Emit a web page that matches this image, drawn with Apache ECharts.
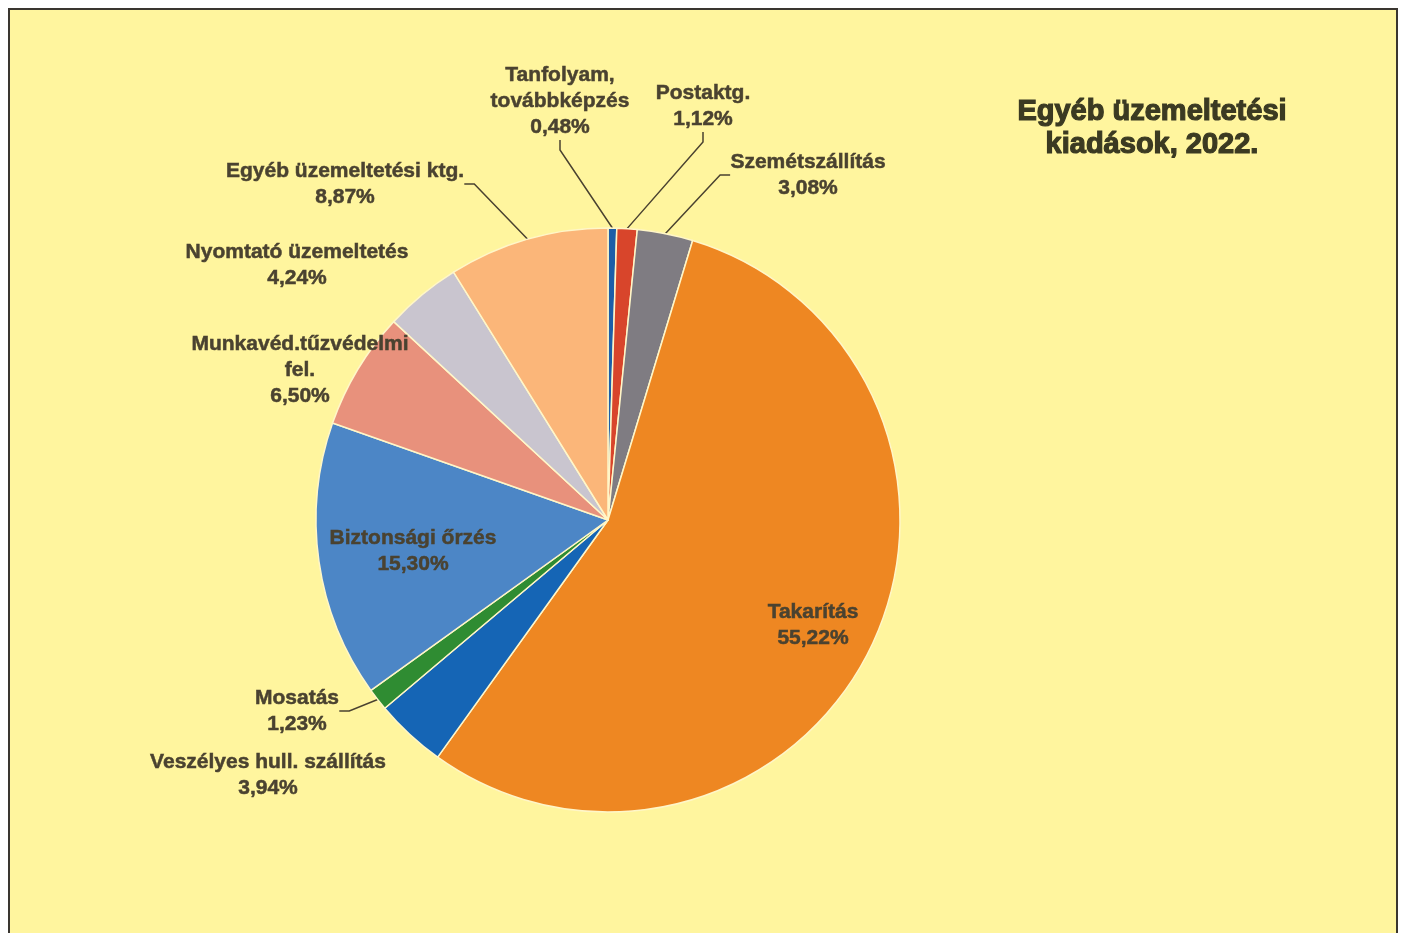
<!DOCTYPE html>
<html>
<head>
<meta charset="utf-8">
<script src="https://cdn.jsdelivr.net/npm/echarts@6/dist/echarts.min.js"></script>
<style>
  html, body { margin: 0; padding: 0; background: #ffffff; }
  #frame {
    position: absolute; left: 8px; top: 8px; width: 1386px; height: 924px;
    border: 2px solid #3a3630; border-bottom: none; background: #fff59e;
  }
  #chart { position: absolute; left: 0; top: 0; width: 1416px; height: 933px; }
</style>
</head>
<body>
<div id="frame"></div>
<div id="chart"></div>
<script>
// adatok (óramutató járásával, 12 órától)
var categories = [
  "Tanfolyam,\ntovábbképzés",
  "Postaktg.",
  "Szemétszállítás",
  "Takarítás",
  "Veszélyes hull. szállítás",
  "Mosatás",
  "Biztonsági őrzés",
  "Munkavéd.tűzvédelmi\nfel.",
  "Nyomtató üzemeltetés",
  "Egyéb üzemeltetési ktg."
];
var values = [0.48, 1.12, 3.08, 55.22, 3.94, 1.23, 15.30, 6.50, 4.24, 8.87];
var colors = ["#1d5ea8", "#d8452b", "#7f7c82", "#ee8722", "#1565b5",
              "#2f8c32", "#4c86c6", "#e8917c", "#c9c5cf", "#fbb679"];

// címkék helye a képen (középpont)
var labelPos = [
  [560, 101], [703, 106], [808, 175], [813, 625], [268, 775],
  [297, 711], [413, 551], [300, 370], [297, 265], [345, 184]
];
var insideIdx = [3, 6];
var noLineIdx = [4, 7, 8];

var chart = echarts.init(document.getElementById("chart"));

var pieData = categories.map(function(name, i) {
  var item = {
    name: name,
    value: values[i],
    itemStyle: { color: colors[i] }
  };
  if (noLineIdx.indexOf(i) >= 0 || insideIdx.indexOf(i) >= 0) {
    item.labelLine = { show: false };
  }
  return item;
});

chart.setOption({
  backgroundColor: "transparent",
  title: {
    text: "Egyéb üzemeltetési\nkiadások, 2022.",
    left: 1147,
    top: 90,
    textAlign: "center",
    textStyle: {
      fontFamily: "Liberation Sans",
      fontWeight: "bold",
      fontSize: 29,
      lineHeight: 33,
      color: "#3b3a22",
      textBorderColor: "#3b3a22",
      textBorderWidth: 1.2
    }
  },
  series: [{
    type: "pie",
    center: [608, 520],
    radius: [0, 292],
    startAngle: 90,
    clockwise: true,
    avoidLabelOverlap: false,
    itemStyle: { borderColor: "#fff6c8", borderWidth: 1.5 },
    label: {
      show: true,
      position: "outside",
      fontFamily: "Liberation Sans",
      fontWeight: "bold",
      fontSize: 21,
      lineHeight: 26,
      color: "#4a4230",
      textBorderColor: "#4a4230",
      textBorderWidth: 0.5,
      align: "center",
      formatter: function(p) {
        return p.name + "\n" + p.value.toFixed(2).replace(".", ",") + "%";
      }
    },
    labelLine: {
      show: true,
      length: 20,
      length2: 10,
      lineStyle: { color: "#4a4230", width: 1.5 }
    },
    labelLayout: function(params) {
      var pos = labelPos[params.dataIndex];
      return {
        x: pos[0],
        y: pos[1],
        align: "center",
        verticalAlign: "middle"
      };
    },
    emphasis: { disabled: true },
    animation: false,
    data: pieData
  }]
});
</script>
</body>
</html>
